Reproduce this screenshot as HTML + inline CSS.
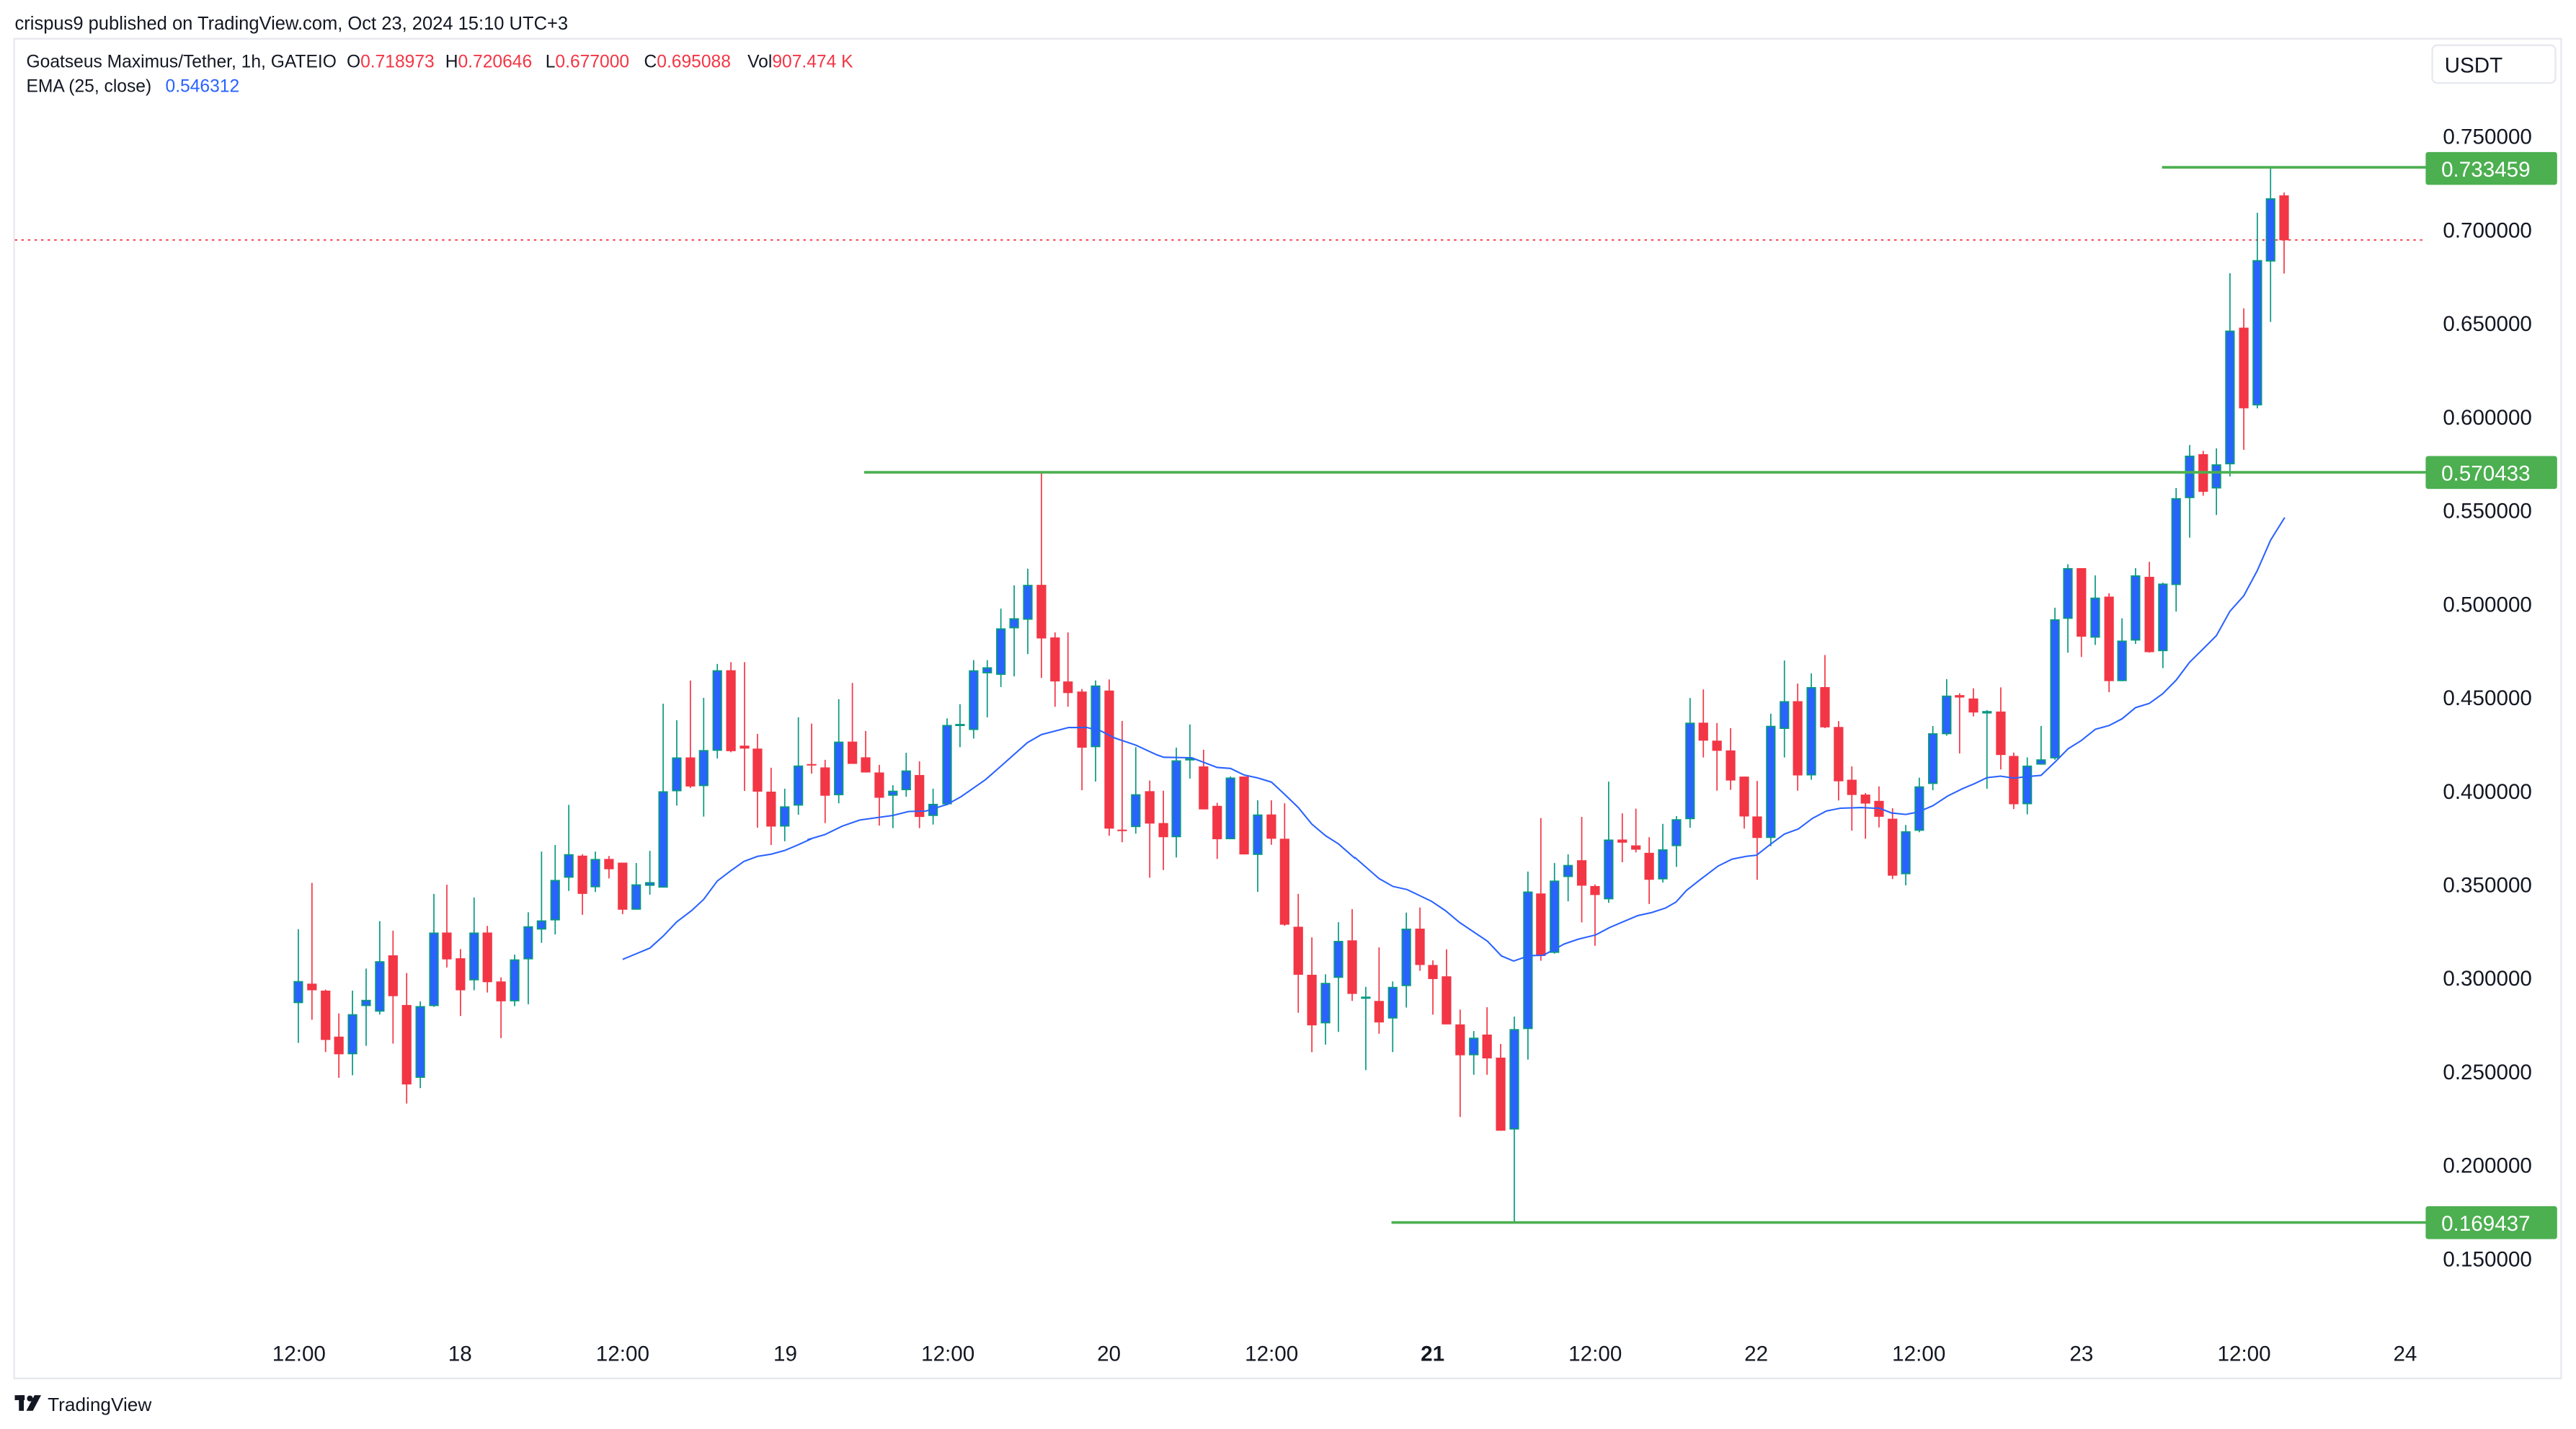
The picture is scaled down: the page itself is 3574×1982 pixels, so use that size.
<!DOCTYPE html>
<html><head><meta charset="utf-8"><style>
html,body{margin:0;padding:0;background:#fff;width:3574px;height:1982px;overflow:hidden}
svg{display:block}
text{font-family:"Liberation Sans",sans-serif;fill:#131722}
</style></head><body>
<svg id="s" width="3574" height="1982" viewBox="0 0 1568 869.56" xmlns="http://www.w3.org/2000/svg">
<rect x="0" y="0" width="1568" height="870" fill="#fff"/>
<rect x="8.6" y="23.6" width="1550.4" height="815.2" fill="none" stroke="#e6e8ef" stroke-width="1"/>
<text x="9" y="18" font-size="11.2">crispus9 published on TradingView.com, Oct 23, 2024 15:10 UTC+3</text>
<text y="41" font-size="10.8"><tspan x="16">Goatseus Maximus/Tether, 1h, GATEIO</tspan><tspan x="211">O</tspan><tspan fill="#F23645">0.718973</tspan><tspan x="271">H</tspan><tspan fill="#F23645">0.720646</tspan><tspan x="332">L</tspan><tspan fill="#F23645">0.677000</tspan><tspan x="392">C</tspan><tspan fill="#F23645">0.695088</tspan><tspan x="455">Vol</tspan><tspan fill="#F23645">907.474 K</tspan></text>
<text y="56" font-size="10.8"><tspan x="16">EMA (25, close)</tspan><tspan x="100.7" fill="#2962FF">0.546312</tspan></text>
<rect x="1480.5" y="27.5" width="75" height="23" rx="3" fill="#fff" stroke="#e6e8ef"/>
<text x="1488" y="44" font-size="13">USDT</text>
<g id="ax" font-size="13"></g>
<g id="tm" font-size="13"></g>
<line x1="9" y1="146" x2="1476" y2="146" stroke="#F23645" stroke-width="0.8" stroke-dasharray="1.5,2.5"/>
<g id="cd"></g>
<polyline id="ema" fill="none" stroke="#2962FF" stroke-width="0.9"/>
<line x1="1316" y1="101.8" x2="1477" y2="101.8" stroke="#4CAF50" stroke-width="1.6"/>
<line x1="526" y1="287.4" x2="1477" y2="287.4" stroke="#4CAF50" stroke-width="1.6"/>
<line x1="847" y1="743.9" x2="1477" y2="743.9" stroke="#4CAF50" stroke-width="1.6"/>
<rect x="1476.5" y="92.5" width="80" height="20" rx="1.5" fill="#4CAF50"/>
<text x="1486" y="107.5" font-size="13" style="fill:#fff">0.733459</text>
<rect x="1476.5" y="277.5" width="80" height="20" rx="1.5" fill="#4CAF50"/>
<text x="1486" y="292.5" font-size="13" style="fill:#fff">0.570433</text>
<rect x="1476.5" y="734" width="80" height="20" rx="1.5" fill="#4CAF50"/>
<text x="1486" y="749" font-size="13" style="fill:#fff">0.169437</text>
<g transform="translate(9,849)"><rect x="0" y="0" width="6" height="3" fill="#131722"/><rect x="2.5" y="0" width="3" height="9.5" fill="#131722"/><circle cx="9.2" cy="2" r="1.8" fill="#131722"/><polygon points="12,0 16,0 11,9.5 7,9.5" fill="#131722"/></g>
<text x="29" y="858.5" font-size="11.5">TradingView</text>
</svg>
<script>
var NS="http://www.w3.org/2000/svg";
function el(t,a,p){var e=document.createElementNS(NS,t);for(var k in a)e.setAttribute(k,a[k]);p.appendChild(e);return e;}
function Y(p){return 83+(0.75-p)*1138.3;}
var ax=document.getElementById('ax');
[0.75,0.70,0.65,0.60,0.55,0.50,0.45,0.40,0.35,0.30,0.25,0.20,0.15].forEach(function(p){
 var t=el('text',{x:1487,y:Y(p)+4.6},ax);t.textContent=p.toFixed(6);});
var tm=document.getElementById('tm');
var labs=[[182,"12:00"],[280,"18"],[379,"12:00"],[478,"19"],[577,"12:00"],[675,"20"],[774,"12:00"],[872,"21"],[971,"12:00"],[1069,"22"],[1168,"12:00"],[1267,"23"],[1366,"12:00"],[1464,"24"]];
labs.forEach(function(l){var t=el('text',{x:l[0],y:828,'text-anchor':'middle'},tm);t.textContent=l[1];if(l[1]=="21")t.setAttribute('font-weight','bold');});
var Z={
4:[166.7,0.2127,329.05,0.22385],
5:[491.4,0.2127,263.24,0.30777],
6:[816.04,0.2127,372.92,0.23783],
7:[1140.7,0.17907,87.75,0.29381]};
var D={
4:[[70,1197,1257,1056,1365,'B'],[109,1204,1222,930,1302,'R'],[148,1223,1357,1220,1390,'R'],[186,1348,1396,1285,1460,'R'],[225,1287,1396,1223,1453,'B'],[264,1248,1265,1163,1373,'B'],[303,1143,1280,1034,1288,'B'],[341,1127,1238,1060,1367,'R'],[380,1262,1478,1175,1530,'R'],[419,1265,1460,1252,1488,'B'],[458,1065,1265,960,1267,'B'],[495,1065,1138,935,1160,'R'],[534,1135,1222,1110,1292,'R'],[573,1065,1195,970,1222,'B'],[611,1065,1200,1047,1228,'R'],[650,1198,1252,1187,1352,'R'],[689,1138,1252,1125,1265,'B'],[728,1048,1138,1010,1260,'B'],[766,1032,1057,845,1093,'B'],[805,922,1032,827,1070,'B'],[844,852,916,718,952,'B'],[883,856,960,852,1017,'R'],[920,865,942,845,955,'B'],[959,865,893,857,918,'R'],[998,875,1003,875,1015,'R'],[1037,934,1003,876,1003,'B'],[1076,928,938,843,962,'B'],[1114,681,943,443,943,'B'],[1153,589,681,488,720,'B'],[1192,589,668,380,672,'R'],[1230,569,667,427,750,'B'],[1269,352,571,335,592,'B'],[1308,352,572,330,575,'R'],[1347,557,565,330,680,'R'],[1384,565,682,525,780,'R'],[1423,682,777,617,827,'R'],[1462,722,777,674,817,'B'],[1501,611,720,480,745,'B'],[1539,607,611,497,633,'R']],
5:[[51,662,718,647,772,'R'],[90,611,717,527,733,'B'],[129,611,655,495,655,'R'],[167,642,672,590,672,'R'],[206,672,722,657,777,'R'],[245,708,718,697,782,'B'],[283,668,707,633,720,'B'],[321,677,760,650,782,'R'],[360,734,758,704,775,'B'],[400,578,735,565,737,'B'],[437,576,578,537,622,'B'],[476,470,588,450,605,'B'],[515,464,476,450,563,'B'],[554,387,479,348,503,'B'],[592,367,387,302,482,'B'],[631,301,370,269,438,'B'],[670,301,407,80,485,'R'],[709,405,492,395,542,'R'],[746,492,515,395,542,'R'],[786,512,623,507,707,'R'],[825,500,622,490,690,'B'],[864,510,783,488,797,'R'],[901,785,787,570,810,'R'],[940,715,780,622,793,'B'],[980,709,773,688,880,'R'],[1019,772,800,708,865,'R'],[1056,648,800,623,840,'B'],[1095,644,646,577,684,'B'],[1134,660,745,627,745,'R'],[1173,738,804,732,843,'R'],[1211,682,804,680,804,'B'],[1250,680,834,680,834,'R'],[1289,755,835,727,908,'B'],[1328,755,803,727,815,'R'],[1366,803,973,733,975,'R'],[1405,977,1072,912,1147,'R'],[1444,1072,1172,998,1225,'R'],[1483,1088,1168,1071,1210,'B'],[1520,1005,1078,968,1185,'B']],
6:[[33,838,975,758,993,'R'],[72,982,986,957,1170,'B'],[110,993,1048,856,1077,'R'],[149,957,1038,943,1124,'B'],[188,808,955,767,1010,'B'],[227,808,901,754,916,'R'],[264,901,937,889,1028,'R'],[303,930,1053,861,1053,'R'],[342,1053,1132,1015,1290,'R'],[381,1087,1132,1070,1182,'B'],[419,1079,1140,1009,1182,'R'],[458,1138,1325,1103,1325,'R'],[497,1065,1322,1033,1557,'B'],[536,713,1065,662,1143,'B'],[573,718,878,525,890,'R'],[612,685,870,640,872,'B'],[651,645,676,618,738,'B'],[690,633,698,522,792,'R'],[728,699,722,695,852,'R'],[767,580,733,432,742,'B'],[806,580,588,513,638,'R'],[845,595,606,501,613,'R'],[883,614,683,574,745,'R'],[922,605,682,540,690,'B'],[961,528,597,520,650,'B'],[1000,281,528,218,550,'B'],[1038,281,327,196,370,'R'],[1077,327,353,282,455,'R'],[1116,352,429,295,453,'R'],[1155,419,521,419,552,'R'],[1192,521,576,430,683,'R'],[1231,289,576,258,597,'B'],[1270,226,297,122,370,'B'],[1308,226,416,181,455,'R'],[1347,190,416,155,427,'B'],[1386,190,293,108,295,'R'],[1425,292,431,277,480,'R'],[1463,427,466,393,557,'R'],[1502,465,488,461,578,'R']],
7:[[17,1360,1393,1330,1415,'R'],[63,1397,1515,1375,1522,'R'],[108,1423,1512,1410,1535,'B'],[154,1330,1422,1312,1425,'B'],[200,1220,1325,1205,1338,'B'],[247,1142,1222,1108,1225,'B'],[291,1141,1146,1137,1262,'R'],[338,1148,1177,1127,1185,'R'],[384,1174,1179,1172,1335,'B'],[431,1175,1265,1125,1295,'R'],[475,1267,1367,1260,1377,'R'],[521,1287,1367,1270,1388,'B'],[568,1274,1285,1205,1285,'B'],[615,984,1272,960,1275,'B'],[659,878,983,870,1053,'B'],[705,878,1020,878,1062,'R'],[752,939,1022,893,1037,'B'],[799,937,1112,930,1135,'R'],[843,1028,1112,982,1112,'B'],[889,893,1028,878,1035,'B'],[936,896,1052,865,1053,'R'],[982,910,1050,908,1085,'B'],[1027,733,913,712,968,'B'],[1073,645,733,623,815,'B'],[1119,642,720,635,728,'R'],[1164,663,713,630,768,'B'],[1210,386,663,267,688,'B'],[1257,380,547,340,633,'R'],[1303,240,541,142,547,'B'],[1348,112,243,50,368,'B'],[1394,106,199,100,268,'R']]};
var cd=document.getElementById('cd');
for(var k in D){var z=Z[k];D[k].forEach(function(c){
 var x=z[0]+c[0]*z[1],bt=z[2]+c[1]*z[3],bb=z[2]+c[2]*z[3],wt=z[2]+c[3]*z[3],wb=z[2]+c[4]*z[3];
 var red=c[5]=='R';var col=red?'#F23645':'#089981';
 el('line',{x1:x,y1:wt,x2:x,y2:wb,stroke:col,'stroke-width':0.75},cd);
 var h=Math.max(bb-bt,0.9);
 if(red)el('rect',{x:x-2.9,y:bt,width:5.8,height:h,fill:'#F23645'},cd);
 else el('rect',{x:x-2.5,y:bt+0.4,width:5,height:Math.max(h-0.8,0.5),fill:'#2962FF',stroke:'#089981','stroke-width':0.8},cd);
});}
var E=[[4,[[998,1138],[1076,1107],[1114,1075],[1153,1036],[1196,1005],[1230,975],[1269,925],[1308,897],[1345,872],[1384,858],[1423,852],[1462,842],[1501,826],[1539,810]]],
[5,[[0,805],[50,795],[100,778],[150,766],[200,761],[245,757],[290,749],[340,748],[400,735],[440,720],[510,686],[560,656],[630,613],[670,597],[748,583],[800,583],[840,590],[880,604],[940,618],[1000,637],[1020,642],[1100,643],[1173,662],[1211,664],[1250,677],[1289,683],[1328,691],[1366,715],[1405,741],[1444,774],[1483,797],[1520,813],[1568,842]]],
[6,[[40,625],[110,680],[150,700],[190,708],[260,738],[300,762],[340,792],[420,840],[460,878],[495,891],[540,877],[580,876],[640,847],[680,835],[730,824],[770,805],[810,790],[850,775],[890,767],[930,755],[960,740],[990,710],[1030,682],[1080,648],[1120,630],[1160,623],[1190,620],[1230,592],[1270,566],[1310,553],[1350,526],[1390,507],[1430,500],[1490,498],[1530,500]]],
[7,[[17,1375],[60,1385],[108,1388],[150,1383],[200,1370],[250,1350],[300,1335],[340,1325],[384,1312],[430,1309],[475,1313],[520,1310],[568,1307],[615,1280],[660,1252],[705,1235],[752,1212],[799,1204],[843,1190],[889,1167],[936,1158],[982,1138],[1027,1110],[1073,1073],[1119,1045],[1164,1018],[1210,967],[1257,935],[1303,883],[1348,820],[1396,773]]]];
var pts=[];E.forEach(function(g){var z=Z[g[0]];g[1].forEach(function(p){pts.push((z[0]+p[0]*z[1]).toFixed(1)+','+(z[2]+p[1]*z[3]).toFixed(1));});});
document.getElementById('ema').setAttribute('points',pts.join(' '));
</script>
</body></html>
